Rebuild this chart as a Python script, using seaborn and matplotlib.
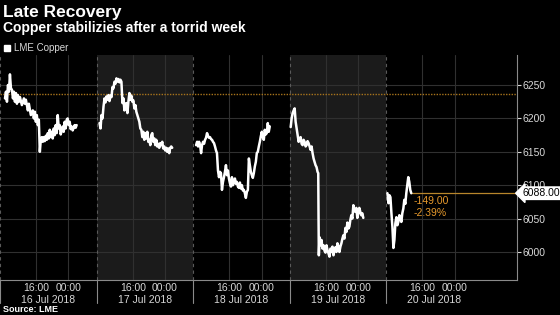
import matplotlib
matplotlib.use("Agg")
import matplotlib.pyplot as plt
from matplotlib.lines import Line2D
import matplotlib.transforms as mtransforms
import seaborn as sns
import pandas as pd

# ---------------- data (hours since 16 Jul session start, price) ----------------
day1_h = [1.24, 1.48, 1.73, 1.98, 2.23, 2.47, 2.72, 2.97, 3.22, 3.46, 3.71, 3.96, 4.21, 4.45, 4.70, 4.95,
          5.44, 5.94, 6.19, 6.43, 6.93, 7.17, 7.67, 8.16, 8.41, 8.66, 8.91, 9.15, 9.40, 9.65, 9.90, 10.14,
          10.39, 10.64, 10.89, 11.13, 11.38, 11.63, 11.88, 12.12, 12.37, 12.62, 12.86, 13.11, 13.36, 13.61,
          13.85, 14.10, 14.35, 14.60, 14.84, 15.09, 15.34, 15.59, 15.83, 16.08, 16.33, 16.58, 16.82, 17.07,
          17.32, 17.57, 17.81, 18.06, 18.31, 18.56, 18.80, 19.05]
day1_p = [6230, 6240, 6225, 6250, 6240, 6266, 6245, 6243, 6230, 6240, 6225, 6238, 6222, 6235, 6225, 6232,
          6220, 6230, 6222, 6228, 6212, 6222, 6205, 6212, 6200, 6210, 6195, 6205, 6190, 6198, 6150, 6168,
          6172, 6165, 6172, 6166, 6174, 6168, 6178, 6170, 6183, 6172, 6180, 6170, 6185, 6175,
          6190, 6178, 6205, 6185, 6190, 6176, 6182, 6188, 6180, 6195, 6185, 6198, 6200, 6190,
          6195, 6184, 6188, 6182, 6186, 6190, 6186, 6190]

day2_h = [24.74, 24.99, 25.23, 25.48, 25.73, 25.98, 26.22, 26.47, 26.72, 26.97, 27.21, 27.46, 27.71, 27.96,
          28.20, 28.45, 28.70, 28.95, 29.19, 29.44, 29.69, 29.94, 30.18, 30.43, 30.68, 30.93, 31.17, 31.42,
          31.67, 31.91, 32.16, 32.41, 32.66, 32.90, 33.15, 33.40, 33.65, 33.89, 34.14, 34.39, 34.64, 34.88,
          35.13, 35.38, 35.63, 35.87, 36.12, 36.37, 36.62, 36.86, 37.11, 37.36, 37.60, 37.85, 38.10, 38.35,
          38.59, 38.84, 39.09, 39.34, 39.58, 39.83, 40.08, 40.33, 40.57, 40.82, 41.07, 41.32, 41.56, 41.81,
          42.06, 42.31, 42.55, 42.80]
day2_p = [6193, 6185, 6205, 6200, 6218, 6230, 6224, 6233, 6228, 6235, 6226, 6234, 6232, 6247,
          6245, 6255, 6252, 6260, 6255, 6259, 6254, 6258, 6255, 6223, 6230, 6212, 6222, 6223,
          6208, 6225, 6238, 6228, 6234, 6225, 6227, 6215, 6220, 6210, 6205, 6200, 6195, 6185,
          6183, 6172, 6180, 6168, 6178, 6170, 6180, 6165, 6168, 6160, 6175, 6178, 6165, 6170,
          6160, 6168, 6158, 6162, 6156, 6163, 6160, 6165, 6155, 6158, 6152, 6156, 6150, 6155,
          6148, 6156, 6158, 6156]

day3_h = [48.74, 48.99, 49.23, 49.48, 49.73, 49.98, 50.22, 50.47, 50.72, 50.97, 51.21, 51.46, 51.71, 51.95,
          52.20, 52.45, 52.70, 52.94, 53.19, 53.44, 53.69, 53.93, 54.18, 54.43, 54.68, 54.92, 55.17, 55.42,
          55.67, 55.91, 56.16, 56.41, 56.66, 56.90, 57.15, 57.40, 57.65, 57.89, 58.14, 58.39, 58.64, 58.88,
          59.13, 59.38, 59.63, 59.87, 60.12, 60.37, 60.62, 60.86, 61.11, 61.36, 61.61, 61.86, 62.10, 62.35,
          62.60, 62.84, 63.09, 63.34, 63.59, 63.83, 64.08, 64.33, 64.58, 64.82, 65.07, 65.32, 65.57, 65.81,
          66.06, 66.31, 66.56, 66.80, 67.05]
day3_p = [6160, 6165, 6158, 6165, 6160, 6148, 6160, 6165, 6162, 6168, 6171, 6178, 6174, 6171,
          6172, 6169, 6168, 6165, 6163, 6158, 6152, 6148, 6122, 6112, 6120, 6118, 6093, 6105,
          6112, 6120, 6130, 6115, 6122, 6110, 6103, 6098, 6112, 6100, 6105, 6110, 6102, 6105,
          6098, 6096, 6104, 6095, 6100, 6092, 6093, 6088, 6081, 6090, 6093, 6140, 6130, 6120,
          6115, 6111, 6118, 6128, 6135, 6148, 6150, 6158, 6165, 6173, 6180, 6172, 6168, 6183,
          6176, 6178, 6193, 6180, 6188]

day4_h = [72.25, 72.49, 72.74, 72.99, 73.24, 73.48, 73.73, 73.98, 74.23, 74.47, 74.72, 74.97, 75.21, 75.46,
          75.71, 75.96, 76.20, 76.45, 76.70, 76.95, 77.19, 77.44, 77.69, 77.94, 78.18, 78.43, 78.68, 78.93,
          79.10, 79.17, 79.25, 79.42, 79.66, 79.91, 80.16, 80.41, 80.65, 80.90, 81.15, 81.39, 81.64, 81.89,
          82.14, 82.38, 82.63, 82.88, 83.13, 83.37, 83.62, 83.87, 84.12, 84.36, 84.61, 84.86, 85.11, 85.35,
          85.60, 85.85, 86.10, 86.34, 86.59, 86.84, 87.08, 87.33, 87.58, 87.83, 88.07, 88.32, 88.57, 88.81,
          89.06, 89.31, 89.56, 89.80, 90.05, 90.30]
day4_p = [6187, 6200, 6208, 6212, 6215, 6195, 6185, 6175, 6165, 6170, 6172, 6162, 6160, 6168,
          6165, 6158, 6160, 6166, 6163, 6158, 6153, 6158, 6148, 6140, 6135, 6130, 6127, 6120,
          6118, 6055, 5995, 6022, 6010, 6018, 6005, 6010, 6002, 5999, 6010, 6003, 5998, 5993,
          6005, 6000, 6008, 5995, 6003, 6007, 6000, 6013, 6008, 6000, 6008, 6013, 6020, 6025,
          6020, 6036, 6030, 6044, 6035, 6038, 6048, 6055, 6050, 6070, 6062, 6060, 6066, 6051,
          6058, 6066, 6060, 6055, 6058, 6051]

day5_h = [96.30, 96.55, 96.80, 97.04, 97.29, 97.53, 97.78, 98.03, 98.27, 98.52, 98.77, 99.01, 99.26,
          99.51, 99.75, 100.00, 100.25, 100.49, 100.74, 100.99, 101.23, 101.48, 101.73, 101.97, 102.22]
day5_p = [6088, 6073, 6085, 6082, 6058, 6038, 6006, 6018, 6043, 6052, 6040, 6045, 6055,
          6051, 6045, 6058, 6065, 6078, 6072, 6088, 6100, 6112, 6105, 6093, 6088]

series_name = "LME Copper"
prev_close = 6237
last_price = 6088.00
change_abs = "-149.00"
change_pct = "-2.39%"
day_labels = ["16 Jul 2018", "17 Jul 2018", "18 Jul 2018", "19 Jul 2018", "20 Jul 2018"]
time_labels = ["16:00", "00:00"]
y_ticks = [6000, 6050, 6100, 6150, 6200, 6250]

title = "Late Recovery"
subtitle = "Copper stabilizies after a torrid week"
source = "Source: LME"

# ---------------- build table ----------------
frames = []
for i, (h, p) in enumerate([(day1_h, day1_p), (day2_h, day2_p), (day3_h, day3_p),
                            (day4_h, day4_p), (day5_h, day5_p)]):
    frames.append(pd.DataFrame({"hours": h, "price": p, "day": i}))
df = pd.concat(frames, ignore_index=True)

# ---------------- style ----------------
sns.set_style("dark")
plt.rcParams["font.family"] = ["Liberation Sans Narrow", "Liberation Sans", "DejaVu Sans"]
BG = "#000000"
GRID = "#303030"
TXT = "#d8d8d8"
ORANGE = "#e89a2c"

fig = plt.figure(figsize=(5.6, 3.15), dpi=100, facecolor=BG)
ax = fig.add_axes([0.0, 0.1111, 0.9232, 0.7143])
ax.set_facecolor(BG)

XMAX = 128.5
ax.set_xlim(0, XMAX)
ax.set_ylim(5958, 6295)

# shaded alternate days
for k in (1, 3):
    ax.axvspan(24 * k, 24 * (k + 1), color="#1b1b1b", zorder=0, lw=0)

# grid
for v in y_ticks:
    ax.axhline(v, color=GRID, lw=0.8, zorder=1)
tick_pos = []
tick_lab = []
for k in range(6):
    for off, lab in zip((9, 17), time_labels):
        t = 24 * k + off
        if t < XMAX:
            tick_pos.append(t)
            tick_lab.append(lab)
for t in tick_pos:
    ax.axvline(t, color=GRID, lw=0.8, zorder=1)
for k in range(5):
    ax.axvline(24 * k, color="#5a5a5a", lw=0.8, ls=(0, (3, 3)), zorder=1)
    ax.axvline(24 * k, ymin=-0.102, ymax=0, color="#8a8a8a", lw=0.8, clip_on=False)

# reference lines
ax.axhline(prev_close, color="#a8741c", lw=1.0, ls=(0, (1, 1)), zorder=2)
ax.plot([day5_h[-1], XMAX], [last_price, last_price], color="#b8862b", lw=0.9, zorder=2)

# main series
sns.lineplot(data=df, x="hours", y="price", units="day", estimator=None,
             color="white", lw=1.8, ax=ax, zorder=3, legend=False)

# annotations
ax.text(day5_h[-1] + 0.6, 6076, change_abs, color=ORANGE, fontsize=7.5, va="center", ha="left")
ax.text(day5_h[-1] + 0.6, 6058, change_pct, color=ORANGE, fontsize=7.5, va="center", ha="left")
ax.text(XMAX + 1.3, last_price, f"{last_price:.2f}", color="black", fontsize=7.5,
        va="center", ha="left", clip_on=False,
        bbox=dict(boxstyle="larrow,pad=0.12", fc="white", ec="white"))

# axes styling
ax.yaxis.tick_right()
ax.set_yticks(y_ticks)
ax.set_yticklabels([str(v) for v in y_ticks])
ax.tick_params(axis="y", colors=TXT, labelcolor=TXT, length=3, width=0.8, pad=1, labelsize=7.5)
ax.set_xticks(tick_pos)
ax.set_xticklabels(tick_lab)
ax.tick_params(axis="x", colors=TXT, labelcolor=TXT, length=1.5, width=0.8, pad=0.5, labelsize=7.5)
ax.set_xlabel("")
ax.set_ylabel("")
for s in ("top", "left"):
    ax.spines[s].set_visible(False)
for s in ("right", "bottom"):
    ax.spines[s].set_visible(True)
    ax.spines[s].set_color("#8a8a8a")
    ax.spines[s].set_linewidth(0.8)

trans = mtransforms.blended_transform_factory(ax.transData, ax.transAxes)
for k, lab in enumerate(day_labels):
    ax.text(24 * k + 12, -0.088, lab, transform=trans, ha="center", va="center",
            color=TXT, fontsize=7.5)

# legend
handle = Line2D([], [], marker="s", color="white", ls="None", markersize=5)
leg = ax.legend([handle], [series_name], loc="lower left", bbox_to_anchor=(0.0, 1.0),
                frameon=False, fontsize=7, handletextpad=0.2, borderpad=0.1,
                borderaxespad=0.1, handlelength=1.0)
for t in leg.get_texts():
    t.set_color(TXT)

# titles
fig.text(0.005, 0.946, title, color="white", fontsize=12.5, weight="bold",
         family=["Liberation Sans", "DejaVu Sans"])
fig.text(0.005, 0.898, subtitle, color="white", fontsize=10, weight="bold",
         family=["Liberation Sans", "DejaVu Sans"])
fig.text(0.005, 0.008, source, color="white", fontsize=6.5, weight="bold",
         family=["Liberation Sans", "DejaVu Sans"])

fig.savefig("out.png", dpi=100, facecolor=BG)
